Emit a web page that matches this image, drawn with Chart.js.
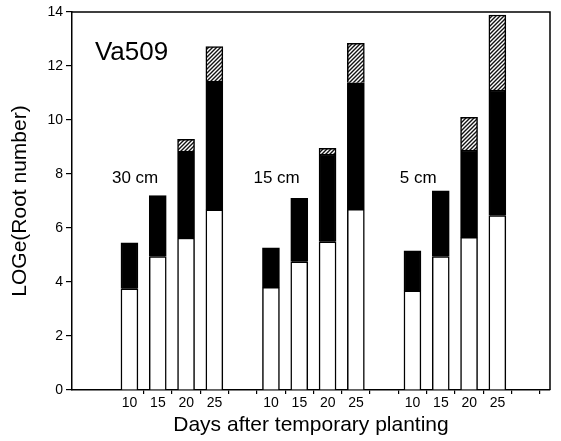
<!DOCTYPE html>
<html>
<head>
<meta charset="utf-8">
<script src="https://cdn.jsdelivr.net/npm/chart.js@4"></script>
<style>
  html, body { margin: 0; padding: 0; background: #fff; }
</style>
</head>
<body>
<canvas id="rootChart" width="561" height="441"></canvas>
<script>
// Planting depth groups and sampling days
const groups = ['30 cm', '15 cm', '5 cm'];
const days = ['10', '15', '20', '25'];

// Top of each stacked segment (LOGe root number)
const whiteTop = [[3.75, 4.94, 5.63, 6.67], [3.80, 4.75, 5.49, 6.69], [3.67, 4.94, 5.65, 6.46]];
const blackTop = [[5.45, 7.20, 8.85, 11.44], [5.27, 7.10, 8.74, 11.38], [5.15, 7.38, 8.89, 11.11]];
const hatchTop = [[null, null, 9.28, 12.72], [null, null, 8.95, 12.84], [null, null, 10.10, 13.89]];

const yTicks = [0, 2, 4, 6, 8, 10, 12, 14];
const sampleName = 'Va509';
const xTitle = 'Days after temporary planting';
const yTitle = 'LOGe(Root number)';

const FONT = '"Liberation Sans", Arial, Helvetica, sans-serif';

// slot on the x axis: two empty slots before and between groups
function slot(g, d) {
    return 2 + g * 5 + d;
}

function dayLabel(v) {
    for (let g = 0; g < groups.length; g++) {
        for (let d = 0; d < days.length; d++) {
            if (Math.abs(slot(g, d) - v) < 0.01) return days[d];
        }
    }
    return '';
}

function segments(lowArr, highArr) {
    const out = [];
    groups.forEach((g, gi) => {
        days.forEach((d, di) => {
            const hi = highArr[gi][di];
            if (hi == null) return;
            const lo = lowArr ? lowArr[gi][di] : 0;
            out.push({ x: slot(gi, di), y: [lo, hi] });
        });
    });
    return out;
}

function makeHatch() {
    const size = 4;
    const c = document.createElement('canvas');
    c.width = size; c.height = size;
    const g = c.getContext('2d');
    g.fillStyle = '#fff';
    g.fillRect(0, 0, size, size);
    g.strokeStyle = '#111';
    g.lineWidth = 1.4;
    g.beginPath();
    g.moveTo(-1, size + 1); g.lineTo(size + 1, -1);
    g.moveTo(-1, 1); g.lineTo(1, -1);
    g.moveTo(size - 1, size + 1); g.lineTo(size + 1, size - 1);
    g.stroke();
    return g.createPattern(c, 'repeat');
}

// frame on top/right plus the text inside the plot
const extras = {
    id: 'extras',
    afterDraw(chart) {
        const { ctx, chartArea: a, scales: { x, y } } = chart;
        ctx.save();
        ctx.strokeStyle = '#000';
        ctx.lineWidth = 1.5;
        ctx.beginPath();
        ctx.moveTo(a.left, a.top);
        ctx.lineTo(a.right, a.top);
        ctx.lineTo(a.right, a.bottom);
        ctx.stroke();

        ctx.fillStyle = '#000';
        ctx.textBaseline = 'middle';
        ctx.textAlign = 'left';
        ctx.font = '26px ' + FONT;
        ctx.fillText(sampleName, x.getPixelForValue(0.78), y.getPixelForValue(12.48));

        ctx.textAlign = 'center';
        ctx.font = '17px ' + FONT;
        groups.forEach((g, gi) => {
            ctx.fillText(g, x.getPixelForValue(slot(gi, 0) + 0.2), y.getPixelForValue(7.85));
        });
        ctx.restore();
    }
};

const barCommon = {
    grouped: false,
    barThickness: 17,
    borderColor: '#000',
    borderWidth: 1.5
};

const ctx = document.getElementById('rootChart').getContext('2d');
const rootChart = new Chart(ctx, {
    type: 'bar',
    data: {
        datasets: [
            Object.assign({ label: 'white', data: segments(null, whiteTop), backgroundColor: '#fff' }, barCommon),
            Object.assign({ label: 'black', data: segments(whiteTop, blackTop), backgroundColor: '#000' }, barCommon),
            Object.assign({ label: 'hatched', data: segments(blackTop, hatchTop), backgroundColor: makeHatch() }, barCommon)
        ]
    },
    options: {
        responsive: false,
        animation: false,
        layout: { padding: { top: 12, right: 11, left: 0, bottom: 0 } },
        plugins: {
            legend: { display: false },
            tooltip: { enabled: false }
        },
        scales: {
            x: {
                type: 'linear',
                offset: false,
                min: -0.03,
                max: 16.86,
                afterBuildTicks: s => {
                    s.ticks = [];
                    for (let v = 2.5; v <= 16.5; v += 1) s.ticks.push({ value: v });
                },
                afterFit: s => { s.height = 51; },
                ticks: {
                    autoSkip: false,
                    maxRotation: 0,
                    labelOffset: -14,
                    padding: 1,
                    color: '#000',
                    font: { family: FONT, size: 14 },
                    callback: v => dayLabel(v - 0.5)
                },
                grid: { offset: false, drawOnChartArea: false, tickLength: 4, color: '#000', lineWidth: 1.2 },
                border: { color: '#000', width: 1.5 },
                title: {
                    display: true,
                    text: xTitle,
                    color: '#000',
                    font: { family: FONT, size: 21 },
                    padding: { top: 0, bottom: 3 }
                }
            },
            y: {
                min: 0,
                max: 14,
                afterBuildTicks: s => { s.ticks = yTicks.map(v => ({ value: v })); },
                afterFit: s => { s.width = 72; },
                ticks: {
                    padding: 3,
                    color: '#000',
                    font: { family: FONT, size: 14 }
                },
                grid: { drawOnChartArea: false, tickLength: 6, color: '#000', lineWidth: 1.2 },
                border: { color: '#000', width: 1.5 },
                title: {
                    display: true,
                    text: yTitle,
                    color: '#000',
                    font: { family: FONT, size: 21 },
                    padding: { top: 8, bottom: 0 }
                }
            }
        }
    },
    plugins: [extras]
});
</script>
</body>
</html>
